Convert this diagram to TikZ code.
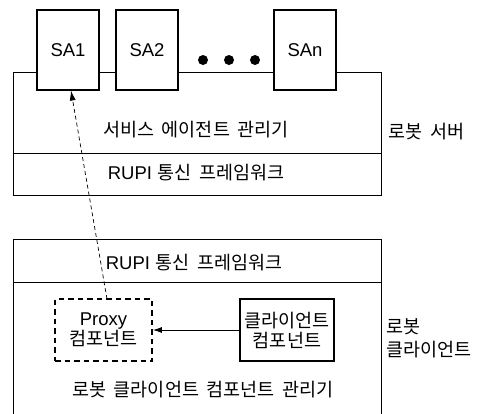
\documentclass[tikz,border=0pt]{standalone}
\usepackage{fontspec}
\setmainfont{Liberation Sans}
\newfontfamily\kr[WordSpace=1.9]{Noto Sans CJK KR}
\usetikzlibrary{arrows.meta}
\begin{document}
\begin{tikzpicture}[x=1pt,y=-1pt,
  every node/.style={font=\fontsize{18.5}{21}\selectfont, inner sep=0pt},
  frame/.style={draw, line width=0.8pt},
  sabox/.style={draw, line width=1.1pt, minimum width=62pt, minimum height=80pt, fill=white},
  thickbox/.style={draw, line width=1.8pt, minimum width=94pt, minimum height=62pt},
  dashbox/.style={draw, line width=1.8pt, dash pattern=on 5.5pt off 4pt, minimum width=97pt, minimum height=62pt},
  lbl/.style={align=center}]
\useasboundingbox (0,0) rectangle (481,413);
% server
\draw[frame] (13,72) rectangle (381,195);
\draw[frame] (13,153) -- (381,153);
\node[sabox] (sa1) at (68,50) {SA1};
\node[sabox] (sa2) at (147,50) {SA2};
\node[sabox] (san) at (305,50) {SAn};
\fill (203,60) circle (5pt) (229,60) circle (5pt) (255,60) circle (5pt);
\node[lbl] (sam) at (196,130) {\kr 서비스 에이전트 관리기};
\node[lbl] (rupi1) at (196,173) {RUPI {\kr 통신 프레임워크}};
\node[anchor=west] (srv) at (388,132) {\kr 로봇 서버};
% client
\draw[frame] (13,415) -- (13,239) -- (381,239) -- (381,415);
\draw[frame] (13,282) -- (381,282);
\node[lbl] (rupi2) at (194,263) {RUPI {\kr 통신 프레임워크}};
\node[dashbox, align=center] (proxy) at (103.5,330) {Proxy\\[-1pt]{\kr 컴포넌트}};
\node[thickbox, align=center] (cc) at (287,330) {\kr 클라이언트\\[-1pt]\kr 컴포넌트};
\node[lbl] (ccm) at (203,390) {\kr 로봇 클라이언트 컴포넌트 관리기};
\node[anchor=west, align=left] (cli) at (386,338) {\kr 로봇\\[2pt]\kr 클라이언트};
% connectors
\draw[line width=0.8pt, -{Latex[length=9pt,width=6pt]}] (cc) -- (proxy);
\coordinate (pt) at (107,299);
\coordinate (st) at (71,90.5);
\draw[line width=0.7pt, dash pattern=on 4pt off 3pt, -{Latex[length=10pt,width=6pt]}] (pt) -- (st);
\end{tikzpicture}
\end{document}
